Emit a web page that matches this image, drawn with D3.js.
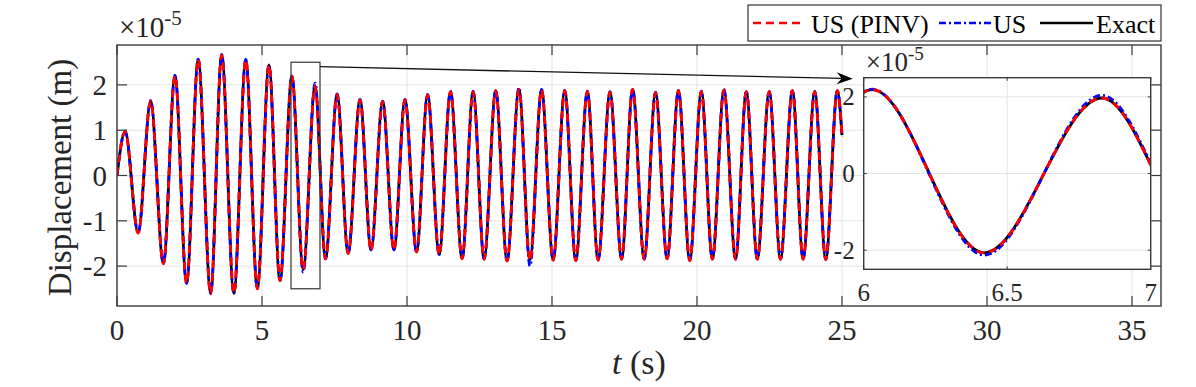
<!DOCTYPE html>
<html><head><meta charset="utf-8">
<script src="https://cdn.jsdelivr.net/npm/d3@7"></script>
<style>
html,body{margin:0;padding:0;background:#fff;}
svg{display:block;font-family:"Liberation Serif","Times New Roman",serif;}
</style></head>
<body><svg id="chart" width="1196" height="387"></svg>
<script>
// ---- data (displacement in units of 1e-5 m; local extrema) ----
const time = [0, 0.28, 0.73, 1.16, 1.60, 2.00, 2.40, 2.80, 3.23, 3.61, 4.03, 4.44, 4.84, 5.24, 5.62, 6.03, 6.42, 6.83, 7.19, 7.59, 7.97, 8.38, 8.76, 9.16, 9.55, 9.93, 10.33, 10.71, 11.11, 11.50, 11.90, 12.28, 12.66, 13.06, 13.45, 13.86, 14.24, 14.64, 15.04, 15.44, 15.82, 16.22, 16.59, 17.00, 17.40, 17.78, 18.18, 18.57, 18.97, 19.36, 19.75, 20.15, 20.53, 20.93, 21.33, 21.70, 22.08, 22.49, 22.88, 23.29, 23.66, 24.06, 24.44, 24.84, 25.0];
const exact = [0, 0.97, -1.26, 1.64, -1.94, 2.20, -2.38, 2.56, -2.60, 2.66, -2.60, 2.55, -2.49, 2.44, -2.32, 2.19, -2.07, 1.97, -1.83, 1.79, -1.72, 1.67, -1.64, 1.63, -1.64, 1.67, -1.68, 1.78, -1.74, 1.85, -1.83, 1.85, -1.84, 1.87, -1.88, 1.90, -1.86, 1.89, -1.86, 1.87, -1.87, 1.85, -1.86, 1.84, -1.84, 1.90, -1.84, 1.83, -1.83, 1.87, -1.87, 1.85, -1.84, 1.89, -1.84, 1.85, -1.84, 1.85, -1.84, 1.87, -1.84, 1.85, -1.85, 1.87, 0.89];
const usPinv = [0, 0.97, -1.27, 1.64, -1.95, 2.20, -2.38, 2.56, -2.61, 2.66, -2.60, 2.55, -2.50, 2.44, -2.32, 2.19, -2.07, 1.97, -1.84, 1.79, -1.72, 1.67, -1.65, 1.63, -1.64, 1.67, -1.69, 1.78, -1.75, 1.85, -1.84, 1.85, -1.85, 1.87, -1.89, 1.90, -1.88, 1.89, -1.87, 1.87, -1.88, 1.85, -1.87, 1.84, -1.85, 1.90, -1.85, 1.83, -1.84, 1.87, -1.88, 1.85, -1.85, 1.89, -1.85, 1.85, -1.85, 1.85, -1.85, 1.87, -1.85, 1.85, -1.86, 1.87, 0.89];
const us = [0, 0.98, -1.26, 1.65, -1.94, 2.21, -2.38, 2.57, -2.60, 2.67, -2.60, 2.56, -2.49, 2.45, -2.32, 2.20, -2.13, 2.04, -1.84, 1.80, -1.72, 1.68, -1.64, 1.64, -1.64, 1.68, -1.68, 1.79, -1.74, 1.86, -1.83, 1.86, -1.84, 1.88, -1.88, 1.94, -2.00, 1.90, -1.86, 1.88, -1.87, 1.86, -1.86, 1.85, -1.84, 1.91, -1.84, 1.84, -1.83, 1.88, -1.87, 1.86, -1.84, 1.90, -1.84, 1.86, -1.84, 1.86, -1.84, 1.88, -1.84, 1.86, -1.85, 1.88, 0.86];
const seriesNames = ["US (PINV)", "US", "Exact"];
const xTicks = [0, 5, 10, 15, 20, 25, 30, 35];
const yTicks = [-2, -1, 0, 1, 2];
const insetXTicks = [6, 6.5, 7];
const insetYTicks = [-2, 0, 2];
const zoomWindow = [6, 7];
const zoomRange = [-2.5, 2.5];

// ---- layout ----
const svg = d3.select("#chart");
const FONT = "'Liberation Serif','Times New Roman',serif";
const M = {l:117, r:1161, t:45, b:306};
const x = d3.scaleLinear().domain([0, 36]).range([M.l, M.r]);
const y = d3.scaleLinear().domain([-2.88, 2.88]).range([M.b, M.t]);
const I = {l:863.7, r:1150.7, t:77.7, b:269.3};
const xi = d3.scaleLinear().domain(zoomWindow).range([I.l, I.r]);
const yi = d3.scaleLinear().domain(zoomRange).range([I.b, I.t]);

const styles = [
  {name: seriesNames[2], data: exact, color:"#000000", dash:null, w:2.8},
  {name: seriesNames[1], data: us, color:"#0000ff", dash:"7,3,2,3", w:2.8},
  {name: seriesNames[0], data: usPinv, color:"#ff0000", dash:"8,5", w:2.8}
];

const defs = svg.append("defs");
defs.append("clipPath").attr("id","clipMain").append("rect")
  .attr("x",M.l).attr("y",M.t).attr("width",M.r-M.l).attr("height",M.b-M.t);
defs.append("clipPath").attr("id","clipInset").append("rect")
  .attr("x",I.l).attr("y",I.t).attr("width",I.r-I.l).attr("height",I.b-I.t);

const GRID = "#e3e3e3", AX = "#3a3a3a", TXT = "#262626";

// ---- main axes ----
const gMain = svg.append("g");
gMain.append("rect").attr("x",M.l).attr("y",M.t).attr("width",M.r-M.l).attr("height",M.b-M.t).attr("fill","#fff");
gMain.selectAll(".vg").data(xTicks).join("line")
  .attr("x1",d=>x(d)).attr("x2",d=>x(d)).attr("y1",M.t).attr("y2",M.b)
  .attr("stroke",GRID).attr("stroke-width",1);
gMain.selectAll(".hg").data(yTicks).join("line").attr("class","hg")
  .attr("x1",M.l).attr("x2",M.r).attr("y1",d=>y(d)).attr("y2",d=>y(d))
  .attr("stroke",GRID).attr("stroke-width",1);

const lineMain = d3.line().x((d,i)=>x(time[i])).y(d=>y(d)).curve(d3.curveMonotoneX);
const gLines = gMain.append("g").attr("clip-path","url(#clipMain)");
styles.forEach(s=>{
  gLines.append("path").attr("d", lineMain(s.data)).attr("fill","none")
    .attr("stroke",s.color).attr("stroke-width",s.w)
    .attr("stroke-dasharray",s.dash).attr("stroke-linejoin","round");
});

// ticks (inward, on all four sides)
const TL = 10;
xTicks.forEach(d=>{
  gMain.append("line").attr("x1",x(d)).attr("x2",x(d)).attr("y1",M.b).attr("y2",M.b-TL).attr("stroke",AX).attr("stroke-width",1.2);
  gMain.append("line").attr("x1",x(d)).attr("x2",x(d)).attr("y1",M.t).attr("y2",M.t+TL).attr("stroke",AX).attr("stroke-width",1.2);
  gMain.append("text").attr("x",x(d)).attr("y",M.b+34).attr("text-anchor","middle")
    .attr("font-size",29).attr("fill",TXT).attr("font-family",FONT).text(d);
});
yTicks.forEach(d=>{
  gMain.append("line").attr("x1",M.l).attr("x2",M.l+TL).attr("y1",y(d)).attr("y2",y(d)).attr("stroke",AX).attr("stroke-width",1.2);
  gMain.append("line").attr("x1",M.r).attr("x2",M.r-TL).attr("y1",y(d)).attr("y2",y(d)).attr("stroke",AX).attr("stroke-width",1.2);
  gMain.append("text").attr("x",M.l-10).attr("y",y(d)+10).attr("text-anchor","end")
    .attr("font-size",29).attr("fill",TXT).attr("font-family",FONT).text(d);
});
gMain.append("rect").attr("x",M.l).attr("y",M.t).attr("width",M.r-M.l).attr("height",M.b-M.t)
  .attr("fill","none").attr("stroke",AX).attr("stroke-width",1.4);

// exponent label
const ex = gMain.append("text").attr("x",M.l+2).attr("y",37).attr("font-size",29).attr("fill",TXT).attr("font-family",FONT);
ex.append("tspan").text("\u00d710");
ex.append("tspan").attr("dy",-12).attr("font-size",21).text("-5");

// axis labels
svg.append("text").attr("transform",`translate(71,${(M.t+M.b)/2 + 2}) rotate(-90)`)
  .attr("text-anchor","middle").attr("font-size",33).attr("fill",TXT).attr("font-family",FONT)
  .text("Displacement  (m)");
const xl = svg.append("text").attr("x",(M.l+M.r)/2).attr("y",374).attr("text-anchor","middle")
  .attr("font-size",34).attr("fill",TXT).attr("font-family",FONT);
xl.append("tspan").attr("font-style","italic").text("t");
xl.append("tspan").text(" (s)");

// zoom rectangle
svg.append("rect").attr("x",x(zoomWindow[0])).attr("y",y(zoomRange[1]))
  .attr("width",x(zoomWindow[1])-x(zoomWindow[0])).attr("height",y(zoomRange[0])-y(zoomRange[1]))
  .attr("fill","none").attr("stroke","#333").attr("stroke-width",1.2);

// arrow
const ax0 = x(zoomWindow[1]), ay0 = y(zoomRange[1]) + 4.5;
const ax1 = I.l - 11, ay1 = I.t + 1;
const ang = Math.atan2(ay1-ay0, ax1-ax0);
svg.append("line").attr("x1",ax0).attr("y1",ay0).attr("x2",ax1-10*Math.cos(ang)).attr("y2",ay1-10*Math.sin(ang))
  .attr("stroke","#111").attr("stroke-width",1.3);
{
  const L=16, Wd=6, N=11;
  const c=Math.cos(ang), s=Math.sin(ang);
  const p = (u,v)=>[ax1 + u*c - v*s, ay1 + u*s + v*c];
  const pts=[p(0,0),p(-L,-Wd),p(-N,0),p(-L,Wd)];
  svg.append("path").attr("d","M"+pts.map(q=>q.join(",")).join("L")+"Z").attr("fill","#000");
}

// ---- inset ----
const gI = svg.append("g");
gI.append("rect").attr("x",I.l).attr("y",I.t).attr("width",I.r-I.l).attr("height",I.b-I.t).attr("fill","#fff");
gI.selectAll(".ivg").data(insetXTicks).join("line").attr("class","ivg")
  .attr("x1",d=>xi(d)).attr("x2",d=>xi(d)).attr("y1",I.t).attr("y2",I.b).attr("stroke",GRID);
gI.selectAll(".ihg").data(insetYTicks).join("line").attr("class","ihg")
  .attr("x1",I.l).attr("x2",I.r).attr("y1",d=>yi(d)).attr("y2",d=>yi(d)).attr("stroke",GRID);
const lineInset = d3.line().x((d,i)=>xi(time[i])).y(d=>yi(d)).curve(d3.curveMonotoneX);
const gIL = gI.append("g").attr("clip-path","url(#clipInset)");
styles.forEach(s=>{
  gIL.append("path").attr("d", lineInset(s.data)).attr("fill","none")
    .attr("stroke",s.color).attr("stroke-width",s.w)
    .attr("stroke-dasharray",s.dash).attr("stroke-linejoin","round");
});
const TLi = 3;
insetXTicks.forEach(d=>{
  gI.append("line").attr("x1",xi(d)).attr("x2",xi(d)).attr("y1",I.b).attr("y2",I.b-TLi).attr("stroke",AX);
  gI.append("line").attr("x1",xi(d)).attr("x2",xi(d)).attr("y1",I.t).attr("y2",I.t+TLi).attr("stroke",AX);
  gI.append("text").attr("x",xi(d)).attr("y",I.b+32).attr("text-anchor","middle")
    .attr("font-size",25).attr("fill",TXT).attr("font-family",FONT).text(d);
});
insetYTicks.forEach(d=>{
  gI.append("line").attr("x1",I.l).attr("x2",I.l+TLi).attr("y1",yi(d)).attr("y2",yi(d)).attr("stroke",AX);
  gI.append("line").attr("x1",I.r).attr("x2",I.r-TLi).attr("y1",yi(d)).attr("y2",yi(d)).attr("stroke",AX);
  gI.append("text").attr("x",I.l-9).attr("y",yi(d)+8.5).attr("text-anchor","end")
    .attr("font-size",25).attr("fill",TXT).attr("font-family",FONT).text(d);
});
gI.append("rect").attr("x",I.l).attr("y",I.t).attr("width",I.r-I.l).attr("height",I.b-I.t)
  .attr("fill","none").attr("stroke",AX).attr("stroke-width",1.4);
const exi = gI.append("text").attr("x",I.l+2).attr("y",71).attr("font-size",27).attr("fill",TXT).attr("font-family",FONT);
exi.append("tspan").text("\u00d710");
exi.append("tspan").attr("dy",-11).attr("font-size",19).text("-5");

// ---- legend ----
const lg = svg.append("g");
lg.append("rect").attr("x",748).attr("y",5).attr("width",1161-748).attr("height",36)
  .attr("fill","#fff").attr("stroke","#333").attr("stroke-width",1.2);
const legItems = [
  {s:styles[2], x0:753, x1:803, tx:811},
  {s:styles[1], x0:939, x1:992, tx:993},
  {s:styles[0], x0:1040, x1:1093, tx:1096}
];
legItems.forEach(it=>{
  lg.append("line").attr("x1",it.x0).attr("x2",it.x1).attr("y1",23).attr("y2",23)
    .attr("stroke",it.s.color).attr("stroke-width",2.6).attr("stroke-dasharray",it.s.dash);
  lg.append("text").attr("x",it.tx).attr("y",32.5).attr("font-size",26).attr("fill","#000")
    .attr("font-family",FONT).text(it.s.name);
});
</script></body></html>
